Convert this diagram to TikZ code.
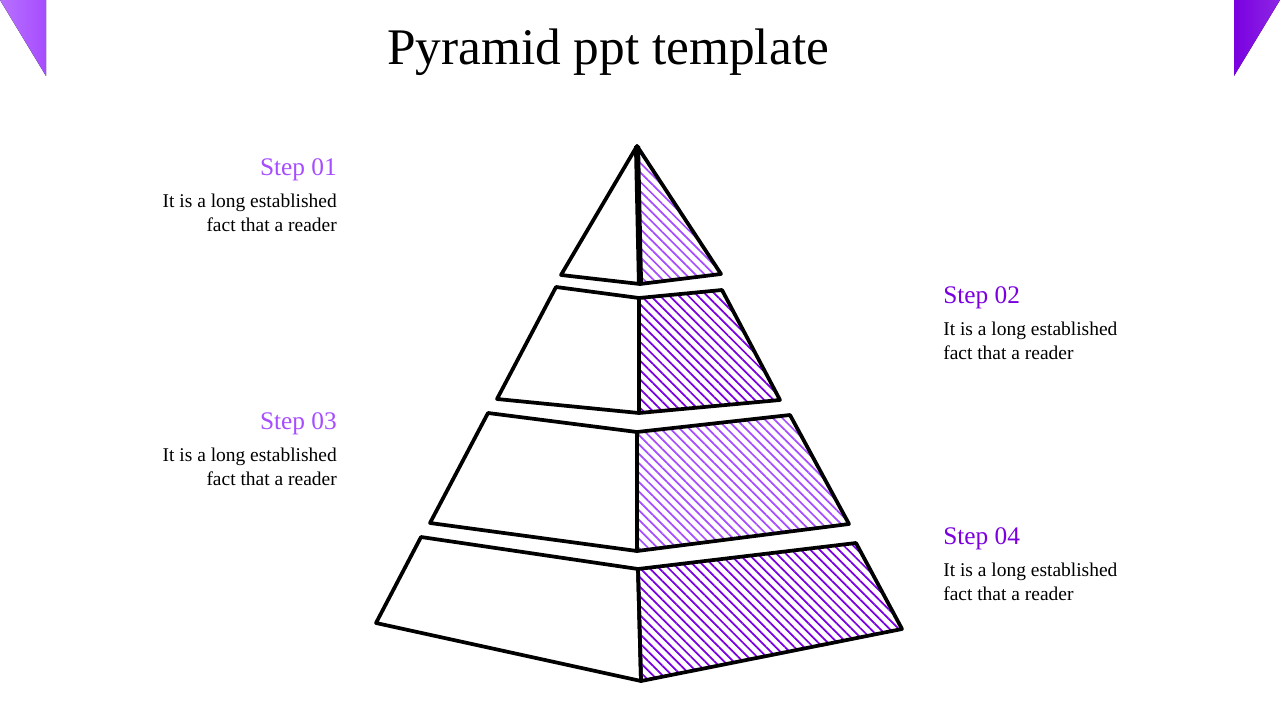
\documentclass[tikz,border=0pt]{standalone}
\usepackage{fontspec}
\setmainfont{Liberation Serif}
\usetikzlibrary{patterns.meta}
\definecolor{lightpurple}{RGB}{166,77,255}
\definecolor{darkpurple}{RGB}{122,0,224}

\begin{document}
\begin{tikzpicture}[x=0.75pt,y=0.75pt,yscale=-1,xscale=1]
\useasboundingbox (0,0) rectangle (1280,720);
\tikzset{face/.style={draw=black,line width=2.8pt,line join=round},
  hatchlight/.style={face,pattern={Lines[angle=-45,distance=5pt,line width=1.3pt]},pattern color=lightpurple},
  hatchdark/.style={face,pattern={Lines[angle=-45,distance=5pt,line width=1.3pt]},pattern color=darkpurple},
  steplabel/.style={inner sep=0.75pt,font=\fontsize{19}{22}\selectfont},
  bodytext/.style={inner sep=0.75pt,font=\fontsize{14.6}{17.5}\selectfont}}

%Corner triangles
\fill [left color=lightpurple!80,right color=lightpurple] (0,0) -- (46,0) -- (46,76) -- cycle ;
\fill [left color=darkpurple,right color=darkpurple!85] (1234,0) -- (1280,0) -- (1234,76) -- cycle ;

%Tier 1
\draw [face] (637,146) -- (561,275) -- (640,284) -- cycle ;
\draw [hatchlight] (637,146) -- (640,284) -- (721,274) -- cycle ;
\draw [line width=4.5pt] (637,146) -- (640,284) ;
%Tier 2
\draw [face] (556,287) -- (497,399) -- (639,413) -- (639,298) -- cycle ;
\draw [hatchdark] (639,298) -- (722,290) -- (780,400) -- (639,413) -- cycle ;
%Tier 3
\draw [face] (488,413) -- (430,523) -- (637,551) -- (637,432) -- cycle ;
\draw [hatchlight] (637,432) -- (790,415) -- (849,524) -- (637,551) -- cycle ;
%Tier 4
\draw [face] (421,537) -- (376,623) -- (641,681) -- (638,569) -- cycle ;
\draw [hatchdark] (638,569) -- (856,543) -- (902,629) -- (641,681) -- cycle ;

% Title
\node (title) at (608,52) [inner sep=0.75pt,font=\fontsize{38.5}{44}\selectfont] {Pyramid ppt template};

% Text Node
\node (s1) at (338,170) [anchor=east,steplabel,text=lightpurple] {Step 01};
\node (t1) at (338,213) [anchor=east,bodytext,align=right] {It is a long established\\fact that a reader};
% Text Node
\node (s2) at (942,298) [anchor=west,steplabel,text=darkpurple] {Step 02};
\node (t2) at (942,341) [anchor=west,bodytext,align=left] {It is a long established\\fact that a reader};
% Text Node
\node (s3) at (338,424) [anchor=east,steplabel,text=lightpurple] {Step 03};
\node (t3) at (338,467) [anchor=east,bodytext,align=right] {It is a long established\\fact that a reader};
% Text Node
\node (s4) at (942,539) [anchor=west,steplabel,text=darkpurple] {Step 04};
\node (t4) at (942,582) [anchor=west,bodytext,align=left] {It is a long established\\fact that a reader};

\end{tikzpicture}
\end{document}
